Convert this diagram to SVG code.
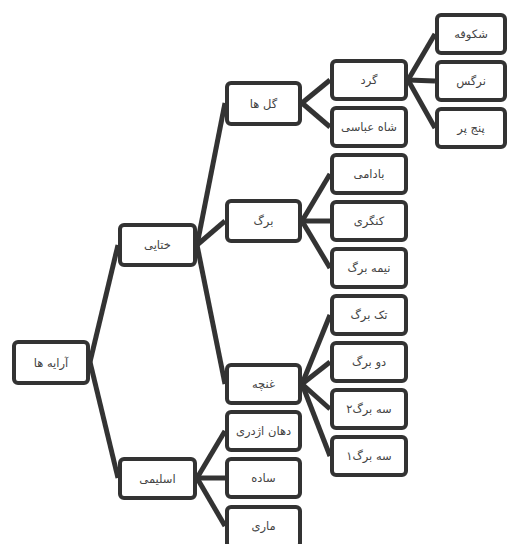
<svg xmlns="http://www.w3.org/2000/svg" width="507" height="544" viewBox="0 0 507 544">
<style>
.box rect{fill:#fff;stroke:#333;stroke-width:4}
.box text{font-family:"DejaVu Sans",sans-serif;font-size:11.5px;fill:#444;text-anchor:middle;dominant-baseline:central}
#connectors line{stroke:#333;stroke-width:5;stroke-linecap:butt}
</style>
<rect width="507" height="544" fill="#fff"/>
<g id="connectors">
<line x1="90" y1="362" x2="118" y2="245"/>
<line x1="90" y1="362" x2="118" y2="478"/>
<line x1="197" y1="245" x2="225" y2="103"/>
<line x1="197" y1="245" x2="225" y2="221"/>
<line x1="197" y1="245" x2="225" y2="384"/>
<line x1="197" y1="478" x2="225" y2="431"/>
<line x1="197" y1="478" x2="225" y2="478"/>
<line x1="197" y1="478" x2="225" y2="526"/>
<line x1="302" y1="103" x2="330" y2="80"/>
<line x1="302" y1="103" x2="330" y2="127"/>
<line x1="302" y1="221" x2="330" y2="174"/>
<line x1="302" y1="221" x2="330" y2="221"/>
<line x1="302" y1="221" x2="330" y2="268"/>
<line x1="302" y1="384" x2="330" y2="315"/>
<line x1="302" y1="384" x2="330" y2="362"/>
<line x1="302" y1="384" x2="330" y2="409"/>
<line x1="302" y1="384" x2="330" y2="456"/>
<line x1="408" y1="80" x2="435" y2="34"/>
<line x1="408" y1="80" x2="435" y2="81"/>
<line x1="408" y1="80" x2="435" y2="128"/>
</g>
<g id="n-araye" class="box"><rect x="14" y="342" width="74" height="41" rx="4"/><text x="51" y="363">آرایه ها</text></g>
<g id="n-khatayi" class="box"><rect x="120" y="225" width="75" height="40" rx="4"/><text x="157.5" y="245">ختایی</text></g>
<g id="n-eslimi" class="box"><rect x="120" y="459" width="75" height="39" rx="4"/><text x="157.5" y="478.5">اسلیمی</text></g>
<g id="n-golha" class="box"><rect x="227" y="83" width="73" height="41" rx="4"/><text x="263.5" y="103.5">گل ها</text></g>
<g id="n-barg" class="box"><rect x="227" y="201" width="73" height="40" rx="4"/><text x="263.5" y="221">برگ</text></g>
<g id="n-ghoncheh" class="box"><rect x="227" y="365" width="73" height="38" rx="4"/><text x="263.5" y="384">غنچه</text></g>
<g id="n-dahan" class="box"><rect x="227" y="412" width="73" height="38" rx="4"/><text x="263.5" y="431">دهان اژدری</text></g>
<g id="n-sadeh" class="box"><rect x="227" y="459" width="73" height="38" rx="4"/><text x="263.5" y="478">ساده</text></g>
<g id="n-mari" class="box"><rect x="227" y="507" width="73" height="40" rx="4"/><text x="263.5" y="526">ماری</text></g>
<g id="n-gerd" class="box"><rect x="332" y="61" width="74" height="38" rx="4"/><text x="369" y="80">گرد</text></g>
<g id="n-shah" class="box"><rect x="332" y="108" width="74" height="38" rx="4"/><text x="369" y="127">شاه عباسی</text></g>
<g id="n-badami" class="box"><rect x="332" y="155" width="74" height="38" rx="4"/><text x="369" y="174">بادامی</text></g>
<g id="n-kongori" class="box"><rect x="332" y="202" width="74" height="38" rx="4"/><text x="369" y="221">کنگری</text></g>
<g id="n-nimeh" class="box"><rect x="332" y="249" width="74" height="38" rx="4"/><text x="369" y="268">نیمه برگ</text></g>
<g id="n-tak" class="box"><rect x="332" y="296" width="74" height="38" rx="4"/><text x="369" y="315">تک برگ</text></g>
<g id="n-do" class="box"><rect x="332" y="343" width="74" height="38" rx="4"/><text x="369" y="362">دو برگ</text></g>
<g id="n-se2" class="box"><rect x="332" y="390" width="74" height="38" rx="4"/><text x="369" y="409">سه برگ۲</text></g>
<g id="n-se1" class="box"><rect x="332" y="437" width="74" height="38" rx="4"/><text x="369" y="456">سه برگ۱</text></g>
<g id="n-shekufeh" class="box"><rect x="437" y="15" width="68" height="38" rx="4"/><text x="471" y="34">شکوفه</text></g>
<g id="n-narges" class="box"><rect x="437" y="62" width="68" height="38" rx="4"/><text x="471" y="81">نرگس</text></g>
<g id="n-panj" class="box"><rect x="437" y="109" width="68" height="38" rx="4"/><text x="471" y="128">پنج پر</text></g>
</svg>
